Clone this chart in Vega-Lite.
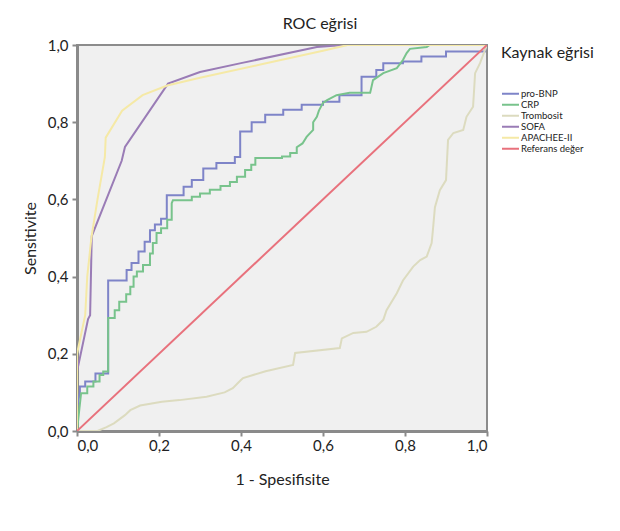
{
  "$schema": "https://vega.github.io/schema/vega-lite/v6.json",
  "width": 410,
  "height": 386,
  "autosize": {"type": "none"},
  "padding": {"left": 77, "top": 45, "right": 133, "bottom": 100},
  "background": "white",
  "title": {"text": "ROC eğrisi", "font": "Lato", "fontSize": 16, "fontWeight": "normal", "color": "#222222", "offset": 6, "dx": 38, "anchor": "middle"},
  "config": {
    "view": {"fill": "#f0f0f0", "stroke": "#8c8c8c", "strokeWidth": 2},
    "axis": {"domainColor": "#8a8a8a", "domainWidth": 3, "tickColor": "#8a8a8a", "tickWidth": 2, "tickSize": 5, "grid": false, "labelFont": "Lato", "labelFontSize": 15, "labelColor": "#222222", "titleFont": "Lato", "titleFontSize": 16, "titleFontWeight": "normal", "titleColor": "#222222"},
    "legend": {"titleFont": "Lato", "titleFontSize": 16, "titleFontWeight": "normal", "titleColor": "#222222", "labelFont": "Lato", "labelFontSize": 9.5, "labelColor": "#222222", "symbolType": "stroke", "symbolSize": 289, "symbolStrokeWidth": 2, "clipHeight": 9.5, "rowPadding": 0, "titlePadding": 28, "labelOffset": 1, "offset": 14, "padding": 0}
  },
  "data": {"values": [
    {"s":"pro-BNP","i":0,"x":0,"y":0},{"s":"pro-BNP","i":1,"x":0,"y":0.06},{"s":"pro-BNP","i":2,"x":0.007,"y":0.1},{"s":"pro-BNP","i":3,"x":0.007,"y":0.115},{"s":"pro-BNP","i":4,"x":0.02,"y":0.115},{"s":"pro-BNP","i":5,"x":0.02,"y":0.128},{"s":"pro-BNP","i":6,"x":0.045,"y":0.128},{"s":"pro-BNP","i":7,"x":0.045,"y":0.149},{"s":"pro-BNP","i":8,"x":0.076,"y":0.149},{"s":"pro-BNP","i":9,"x":0.076,"y":0.39},{"s":"pro-BNP","i":10,"x":0.121,"y":0.39},{"s":"pro-BNP","i":11,"x":0.121,"y":0.417},{"s":"pro-BNP","i":12,"x":0.133,"y":0.417},{"s":"pro-BNP","i":13,"x":0.133,"y":0.435},{"s":"pro-BNP","i":14,"x":0.15,"y":0.435},{"s":"pro-BNP","i":15,"x":0.15,"y":0.465},{"s":"pro-BNP","i":16,"x":0.165,"y":0.465},{"s":"pro-BNP","i":17,"x":0.165,"y":0.49},{"s":"pro-BNP","i":18,"x":0.178,"y":0.49},{"s":"pro-BNP","i":19,"x":0.178,"y":0.52},{"s":"pro-BNP","i":20,"x":0.19,"y":0.52},{"s":"pro-BNP","i":21,"x":0.19,"y":0.535},{"s":"pro-BNP","i":22,"x":0.205,"y":0.535},{"s":"pro-BNP","i":23,"x":0.205,"y":0.55},{"s":"pro-BNP","i":24,"x":0.219,"y":0.55},{"s":"pro-BNP","i":25,"x":0.219,"y":0.611},{"s":"pro-BNP","i":26,"x":0.26,"y":0.611},{"s":"pro-BNP","i":27,"x":0.26,"y":0.633},{"s":"pro-BNP","i":28,"x":0.28,"y":0.633},{"s":"pro-BNP","i":29,"x":0.28,"y":0.65},{"s":"pro-BNP","i":30,"x":0.308,"y":0.65},{"s":"pro-BNP","i":31,"x":0.308,"y":0.68},{"s":"pro-BNP","i":32,"x":0.34,"y":0.68},{"s":"pro-BNP","i":33,"x":0.34,"y":0.694},{"s":"pro-BNP","i":34,"x":0.385,"y":0.694},{"s":"pro-BNP","i":35,"x":0.385,"y":0.71},{"s":"pro-BNP","i":36,"x":0.398,"y":0.71},{"s":"pro-BNP","i":37,"x":0.398,"y":0.776},{"s":"pro-BNP","i":38,"x":0.426,"y":0.776},{"s":"pro-BNP","i":39,"x":0.426,"y":0.8},{"s":"pro-BNP","i":40,"x":0.459,"y":0.8},{"s":"pro-BNP","i":41,"x":0.459,"y":0.819},{"s":"pro-BNP","i":42,"x":0.503,"y":0.819},{"s":"pro-BNP","i":43,"x":0.503,"y":0.832},{"s":"pro-BNP","i":44,"x":0.548,"y":0.832},{"s":"pro-BNP","i":45,"x":0.548,"y":0.845},{"s":"pro-BNP","i":46,"x":0.6,"y":0.845},{"s":"pro-BNP","i":47,"x":0.6,"y":0.853},{"s":"pro-BNP","i":48,"x":0.64,"y":0.853},{"s":"pro-BNP","i":49,"x":0.64,"y":0.87},{"s":"pro-BNP","i":50,"x":0.694,"y":0.87},{"s":"pro-BNP","i":51,"x":0.694,"y":0.918},{"s":"pro-BNP","i":52,"x":0.73,"y":0.918},{"s":"pro-BNP","i":53,"x":0.73,"y":0.935},{"s":"pro-BNP","i":54,"x":0.747,"y":0.935},{"s":"pro-BNP","i":55,"x":0.747,"y":0.953},{"s":"pro-BNP","i":56,"x":0.795,"y":0.953},{"s":"pro-BNP","i":57,"x":0.795,"y":0.957},{"s":"pro-BNP","i":58,"x":0.84,"y":0.957},{"s":"pro-BNP","i":59,"x":0.84,"y":0.97},{"s":"pro-BNP","i":60,"x":0.9,"y":0.97},{"s":"pro-BNP","i":61,"x":0.9,"y":0.983},{"s":"pro-BNP","i":62,"x":0.995,"y":0.983},{"s":"pro-BNP","i":63,"x":1,"y":1},
    {"s":"CRP","i":0,"x":0,"y":0},{"s":"CRP","i":1,"x":0.006,"y":0.06},{"s":"CRP","i":2,"x":0.01,"y":0.098},{"s":"CRP","i":3,"x":0.025,"y":0.098},{"s":"CRP","i":4,"x":0.025,"y":0.115},{"s":"CRP","i":5,"x":0.04,"y":0.115},{"s":"CRP","i":6,"x":0.04,"y":0.128},{"s":"CRP","i":7,"x":0.055,"y":0.128},{"s":"CRP","i":8,"x":0.055,"y":0.145},{"s":"CRP","i":9,"x":0.064,"y":0.145},{"s":"CRP","i":10,"x":0.064,"y":0.154},{"s":"CRP","i":11,"x":0.076,"y":0.154},{"s":"CRP","i":12,"x":0.076,"y":0.293},{"s":"CRP","i":13,"x":0.092,"y":0.293},{"s":"CRP","i":14,"x":0.092,"y":0.313},{"s":"CRP","i":15,"x":0.103,"y":0.313},{"s":"CRP","i":16,"x":0.103,"y":0.335},{"s":"CRP","i":17,"x":0.12,"y":0.335},{"s":"CRP","i":18,"x":0.12,"y":0.354},{"s":"CRP","i":19,"x":0.13,"y":0.354},{"s":"CRP","i":20,"x":0.13,"y":0.374},{"s":"CRP","i":21,"x":0.138,"y":0.374},{"s":"CRP","i":22,"x":0.138,"y":0.4},{"s":"CRP","i":23,"x":0.146,"y":0.4},{"s":"CRP","i":24,"x":0.146,"y":0.413},{"s":"CRP","i":25,"x":0.161,"y":0.413},{"s":"CRP","i":26,"x":0.161,"y":0.43},{"s":"CRP","i":27,"x":0.178,"y":0.43},{"s":"CRP","i":28,"x":0.178,"y":0.46},{"s":"CRP","i":29,"x":0.185,"y":0.46},{"s":"CRP","i":30,"x":0.185,"y":0.487},{"s":"CRP","i":31,"x":0.194,"y":0.487},{"s":"CRP","i":32,"x":0.194,"y":0.513},{"s":"CRP","i":33,"x":0.205,"y":0.513},{"s":"CRP","i":34,"x":0.205,"y":0.525},{"s":"CRP","i":35,"x":0.22,"y":0.525},{"s":"CRP","i":36,"x":0.22,"y":0.547},{"s":"CRP","i":37,"x":0.231,"y":0.547},{"s":"CRP","i":38,"x":0.231,"y":0.59},{"s":"CRP","i":39,"x":0.234,"y":0.598},{"s":"CRP","i":40,"x":0.28,"y":0.598},{"s":"CRP","i":41,"x":0.28,"y":0.607},{"s":"CRP","i":42,"x":0.3,"y":0.607},{"s":"CRP","i":43,"x":0.3,"y":0.615},{"s":"CRP","i":44,"x":0.324,"y":0.615},{"s":"CRP","i":45,"x":0.324,"y":0.625},{"s":"CRP","i":46,"x":0.35,"y":0.625},{"s":"CRP","i":47,"x":0.35,"y":0.635},{"s":"CRP","i":48,"x":0.373,"y":0.635},{"s":"CRP","i":49,"x":0.373,"y":0.645},{"s":"CRP","i":50,"x":0.39,"y":0.645},{"s":"CRP","i":51,"x":0.39,"y":0.659},{"s":"CRP","i":52,"x":0.41,"y":0.659},{"s":"CRP","i":53,"x":0.41,"y":0.676},{"s":"CRP","i":54,"x":0.425,"y":0.676},{"s":"CRP","i":55,"x":0.425,"y":0.69},{"s":"CRP","i":56,"x":0.435,"y":0.69},{"s":"CRP","i":57,"x":0.435,"y":0.707},{"s":"CRP","i":58,"x":0.5,"y":0.707},{"s":"CRP","i":59,"x":0.5,"y":0.711},{"s":"CRP","i":60,"x":0.52,"y":0.711},{"s":"CRP","i":61,"x":0.52,"y":0.72},{"s":"CRP","i":62,"x":0.536,"y":0.72},{"s":"CRP","i":63,"x":0.536,"y":0.735},{"s":"CRP","i":64,"x":0.55,"y":0.745},{"s":"CRP","i":65,"x":0.56,"y":0.762},{"s":"CRP","i":66,"x":0.576,"y":0.78},{"s":"CRP","i":67,"x":0.576,"y":0.8},{"s":"CRP","i":68,"x":0.585,"y":0.814},{"s":"CRP","i":69,"x":0.59,"y":0.83},{"s":"CRP","i":70,"x":0.6,"y":0.85},{"s":"CRP","i":71,"x":0.61,"y":0.857},{"s":"CRP","i":72,"x":0.633,"y":0.87},{"s":"CRP","i":73,"x":0.665,"y":0.876},{"s":"CRP","i":74,"x":0.715,"y":0.876},{"s":"CRP","i":75,"x":0.722,"y":0.909},{"s":"CRP","i":76,"x":0.747,"y":0.927},{"s":"CRP","i":77,"x":0.78,"y":0.94},{"s":"CRP","i":78,"x":0.795,"y":0.961},{"s":"CRP","i":79,"x":0.804,"y":0.979},{"s":"CRP","i":80,"x":0.812,"y":0.99},{"s":"CRP","i":81,"x":0.853,"y":0.995},{"s":"CRP","i":82,"x":0.86,"y":1},{"s":"CRP","i":83,"x":1,"y":1},
    {"s":"Trombosit","i":0,"x":0,"y":0},{"s":"Trombosit","i":1,"x":0.05,"y":0},{"s":"Trombosit","i":2,"x":0.072,"y":0.01},{"s":"Trombosit","i":3,"x":0.09,"y":0.02},{"s":"Trombosit","i":4,"x":0.117,"y":0.041},{"s":"Trombosit","i":5,"x":0.13,"y":0.054},{"s":"Trombosit","i":6,"x":0.154,"y":0.066},{"s":"Trombosit","i":7,"x":0.207,"y":0.076},{"s":"Trombosit","i":8,"x":0.25,"y":0.08},{"s":"Trombosit","i":9,"x":0.316,"y":0.089},{"s":"Trombosit","i":10,"x":0.36,"y":0.1},{"s":"Trombosit","i":11,"x":0.38,"y":0.111},{"s":"Trombosit","i":12,"x":0.398,"y":0.13},{"s":"Trombosit","i":13,"x":0.405,"y":0.137},{"s":"Trombosit","i":14,"x":0.46,"y":0.155},{"s":"Trombosit","i":15,"x":0.527,"y":0.171},{"s":"Trombosit","i":16,"x":0.532,"y":0.202},{"s":"Trombosit","i":17,"x":0.641,"y":0.215},{"s":"Trombosit","i":18,"x":0.646,"y":0.24},{"s":"Trombosit","i":19,"x":0.674,"y":0.254},{"s":"Trombosit","i":20,"x":0.706,"y":0.257},{"s":"Trombosit","i":21,"x":0.73,"y":0.27},{"s":"Trombosit","i":22,"x":0.747,"y":0.288},{"s":"Trombosit","i":23,"x":0.755,"y":0.313},{"s":"Trombosit","i":24,"x":0.78,"y":0.357},{"s":"Trombosit","i":25,"x":0.795,"y":0.39},{"s":"Trombosit","i":26,"x":0.82,"y":0.426},{"s":"Trombosit","i":27,"x":0.837,"y":0.443},{"s":"Trombosit","i":28,"x":0.853,"y":0.452},{"s":"Trombosit","i":29,"x":0.865,"y":0.487},{"s":"Trombosit","i":30,"x":0.868,"y":0.52},{"s":"Trombosit","i":31,"x":0.873,"y":0.58},{"s":"Trombosit","i":32,"x":0.885,"y":0.624},{"s":"Trombosit","i":33,"x":0.9,"y":0.65},{"s":"Trombosit","i":34,"x":0.905,"y":0.754},{"s":"Trombosit","i":35,"x":0.918,"y":0.772},{"s":"Trombosit","i":36,"x":0.942,"y":0.78},{"s":"Trombosit","i":37,"x":0.95,"y":0.814},{"s":"Trombosit","i":38,"x":0.966,"y":0.84},{"s":"Trombosit","i":39,"x":0.971,"y":0.927},{"s":"Trombosit","i":40,"x":0.983,"y":0.953},{"s":"Trombosit","i":41,"x":0.995,"y":0.987},{"s":"Trombosit","i":42,"x":1,"y":1},
    {"s":"SOFA","i":0,"x":0,"y":0},{"s":"SOFA","i":1,"x":0,"y":0.154},{"s":"SOFA","i":2,"x":0.027,"y":0.29},{"s":"SOFA","i":3,"x":0.032,"y":0.3},{"s":"SOFA","i":4,"x":0.036,"y":0.505},{"s":"SOFA","i":5,"x":0.109,"y":0.7},{"s":"SOFA","i":6,"x":0.117,"y":0.736},{"s":"SOFA","i":7,"x":0.222,"y":0.9},{"s":"SOFA","i":8,"x":0.3,"y":0.93},{"s":"SOFA","i":9,"x":0.4,"y":0.953},{"s":"SOFA","i":10,"x":0.585,"y":0.995},{"s":"SOFA","i":11,"x":0.65,"y":1},{"s":"SOFA","i":12,"x":1,"y":1},
    {"s":"APACHEE-II","i":0,"x":0,"y":0},{"s":"APACHEE-II","i":1,"x":0,"y":0.2},{"s":"APACHEE-II","i":2,"x":0.01,"y":0.25},{"s":"APACHEE-II","i":3,"x":0.02,"y":0.3},{"s":"APACHEE-II","i":4,"x":0.025,"y":0.4},{"s":"APACHEE-II","i":5,"x":0.03,"y":0.45},{"s":"APACHEE-II","i":6,"x":0.035,"y":0.5},{"s":"APACHEE-II","i":7,"x":0.05,"y":0.6},{"s":"APACHEE-II","i":8,"x":0.068,"y":0.71},{"s":"APACHEE-II","i":9,"x":0.07,"y":0.76},{"s":"APACHEE-II","i":10,"x":0.11,"y":0.83},{"s":"APACHEE-II","i":11,"x":0.16,"y":0.87},{"s":"APACHEE-II","i":12,"x":0.22,"y":0.895},{"s":"APACHEE-II","i":13,"x":0.3,"y":0.915},{"s":"APACHEE-II","i":14,"x":0.45,"y":0.95},{"s":"APACHEE-II","i":15,"x":0.6,"y":0.985},{"s":"APACHEE-II","i":16,"x":0.66,"y":1},{"s":"APACHEE-II","i":17,"x":1,"y":1},
    {"s":"Referans değer","i":0,"x":0,"y":0},{"s":"Referans değer","i":1,"x":1,"y":1}
  ]},
  "mark": {"type": "line", "strokeWidth": 2, "clip": true},
  "encoding": {
    "x": {"field": "x", "type": "quantitative", "scale": {"domain": [0, 1], "nice": false},
      "axis": {"title": "1 - Spesifisite", "values": [0, 0.2, 0.4, 0.6, 0.8, 1], "labelExpr": "replace(format(datum.value, '.1f'), '.', ',')", "labelPadding": 2, "titlePadding": 18}},
    "y": {"field": "y", "type": "quantitative", "scale": {"domain": [0, 1], "nice": false},
      "axis": {"title": "Sensitivite", "values": [0, 0.2, 0.4, 0.6, 0.8, 1], "labelExpr": "replace(format(datum.value, '.1f'), '.', ',')", "labelPadding": 4, "titlePadding": 9}},
    "color": {"field": "s", "type": "nominal",
      "scale": {"domain": ["pro-BNP", "CRP", "Trombosit", "SOFA", "APACHEE-II", "Referans değer"], "range": ["#7e84c8", "#78c38c", "#dcdbbf", "#9a7cb6", "#f5e9a6", "#e8717c"]},
      "legend": {"title": "Kaynak eğrisi", "orient": "right"}},
    "order": {"field": "i", "type": "quantitative"}
  }
}
